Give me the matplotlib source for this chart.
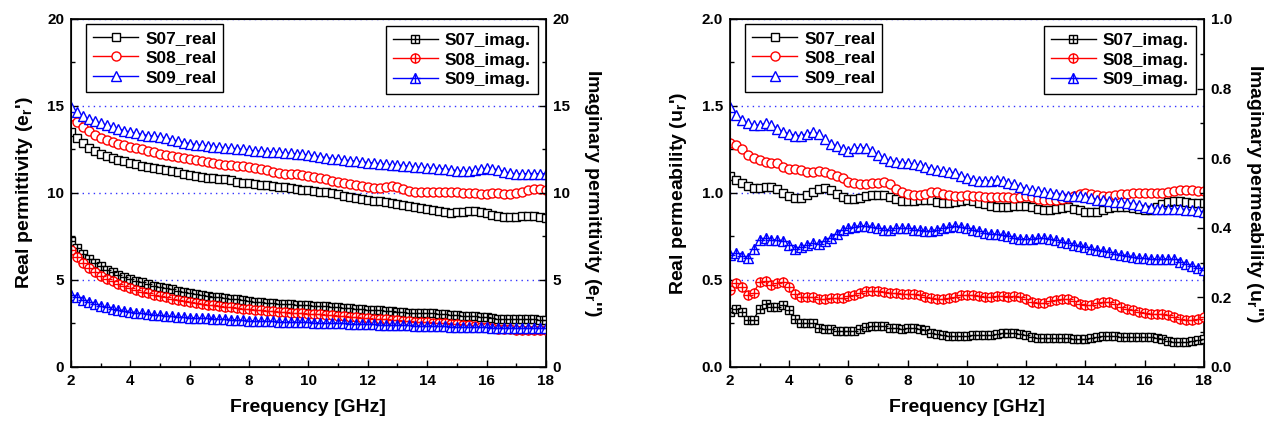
import numpy as np
import matplotlib
matplotlib.use("Agg")
import matplotlib.pyplot as plt
from matplotlib.ticker import MultipleLocator, FormatStrFormatter

plt.rcParams['font.family'] = ['Liberation Sans', 'DejaVu Sans']
plt.rcParams['font.weight'] = 'bold'
plt.rcParams['axes.labelweight'] = 'bold'
plt.rcParams['mathtext.fontset'] = 'custom'
plt.rcParams['mathtext.rm'] = 'Liberation Sans:bold'
plt.rcParams['mathtext.it'] = 'Liberation Sans:bold'
plt.rcParams['mathtext.default'] = 'rm'

freq = [2.0, 2.2, 2.4, 2.6, 2.8, 3.0, 3.2, 3.4, 3.6, 3.8,
        4.0, 4.2, 4.4, 4.6, 4.8, 5.0, 5.2, 5.4, 5.6, 5.8,
        6.0, 6.2, 6.4, 6.6, 6.8, 7.0, 7.2, 7.4, 7.6, 7.8,
        8.0, 8.2, 8.4, 8.6, 8.8, 9.0, 9.2, 9.4, 9.6, 9.8,
        10.0, 10.2, 10.4, 10.6, 10.8, 11.0, 11.2, 11.4, 11.6, 11.8,
        12.0, 12.2, 12.4, 12.6, 12.8, 13.0, 13.2, 13.4, 13.6, 13.8,
        14.0, 14.2, 14.4, 14.6, 14.8, 15.0, 15.2, 15.4, 15.6, 15.8,
        16.0, 16.2, 16.4, 16.6, 16.8, 17.0, 17.2, 17.4, 17.6, 17.8,
        18.0]

# permittivity, real part
eps_s07_real = [13.50, 13.15, 12.85, 12.60, 12.40, 12.25, 12.12, 12.00, 11.92, 11.83,
                11.75, 11.66, 11.58, 11.50, 11.42, 11.36, 11.32, 11.27, 11.20, 11.12,
                11.05, 10.98, 10.92, 10.88, 10.85, 10.82, 10.78, 10.72, 10.66, 10.60,
                10.56, 10.52, 10.48, 10.44, 10.40, 10.36, 10.32, 10.28, 10.24, 10.20,
                10.16, 10.12, 10.08, 10.04, 9.98, 9.92, 9.84, 9.76, 9.70, 9.65,
                9.60, 9.56, 9.52, 9.48, 9.42, 9.36, 9.30, 9.24, 9.18, 9.12,
                9.06, 9.00, 8.95, 8.90, 8.87, 8.88, 8.92, 8.95, 8.96, 8.93,
                8.86, 8.76, 8.66, 8.60, 8.60, 8.62, 8.66, 8.68, 8.66, 8.60,
                8.55]
eps_s08_real = [14.45, 14.10, 13.80, 13.55, 13.35, 13.18, 13.05, 12.93, 12.83, 12.74,
                12.66, 12.58, 12.50, 12.42, 12.34, 12.27, 12.21, 12.15, 12.09, 12.03,
                11.97, 11.90, 11.83, 11.76, 11.70, 11.65, 11.62, 11.60, 11.58, 11.54,
                11.50, 11.45, 11.38, 11.30, 11.22, 11.16, 11.12, 11.10, 11.07, 11.02,
                10.96, 10.90, 10.84, 10.78, 10.70, 10.63, 10.56, 10.50, 10.44, 10.38,
                10.33, 10.30, 10.30, 10.36, 10.38, 10.32, 10.22, 10.14, 10.08, 10.06,
                10.05, 10.07, 10.08, 10.07, 10.05, 10.04, 10.02, 10.00, 9.98, 9.97,
                9.97, 9.98, 9.98, 9.97, 9.96, 9.98, 10.05, 10.15, 10.22, 10.22,
                10.15]
eps_s09_real = [14.95, 14.65, 14.42, 14.25, 14.12, 14.00, 13.88, 13.78, 13.68, 13.58,
                13.50, 13.42, 13.36, 13.30, 13.26, 13.22, 13.15, 13.06, 12.98, 12.90,
                12.84, 12.78, 12.74, 12.70, 12.66, 12.62, 12.60, 12.57, 12.54, 12.50,
                12.46, 12.42, 12.40, 12.38, 12.36, 12.33, 12.30, 12.28, 12.25, 12.22,
                12.18, 12.13, 12.08, 12.03, 11.98, 11.94, 11.90, 11.86, 11.82, 11.78,
                11.75, 11.72, 11.68, 11.65, 11.62, 11.60, 11.57, 11.54, 11.50, 11.47,
                11.44, 11.42, 11.40, 11.38, 11.34, 11.28, 11.25, 11.25, 11.30, 11.38,
                11.42, 11.40, 11.32, 11.22, 11.14, 11.10, 11.10, 11.12, 11.12, 11.10,
                11.12]

# permittivity, imaginary part
eps_s07_imag = [7.25, 6.85, 6.50, 6.22, 5.98, 5.78, 5.60, 5.44, 5.30, 5.17,
                5.05, 4.95, 4.86, 4.77, 4.68, 4.60, 4.53, 4.46, 4.39, 4.32,
                4.26, 4.20, 4.15, 4.10, 4.05, 4.00, 3.96, 3.92, 3.88, 3.84,
                3.80, 3.76, 3.73, 3.70, 3.67, 3.64, 3.62, 3.60, 3.58, 3.56,
                3.54, 3.52, 3.50, 3.48, 3.46, 3.43, 3.40, 3.37, 3.34, 3.32,
                3.30, 3.28, 3.25, 3.22, 3.20, 3.17, 3.15, 3.13, 3.11, 3.10,
                3.09, 3.08, 3.06, 3.04, 3.00, 2.96, 2.94, 2.93, 2.92, 2.90,
                2.86, 2.82, 2.78, 2.76, 2.75, 2.74, 2.74, 2.74, 2.73, 2.72,
                2.70]
eps_s08_imag = [6.70, 6.30, 5.98, 5.70, 5.45, 5.25, 5.07, 4.92, 4.78, 4.65,
                4.53, 4.43, 4.33, 4.24, 4.15, 4.07, 4.00, 3.93, 3.86, 3.80,
                3.74, 3.68, 3.63, 3.58, 3.54, 3.50, 3.46, 3.42, 3.39, 3.36,
                3.33, 3.30, 3.27, 3.24, 3.21, 3.18, 3.15, 3.12, 3.10, 3.08,
                3.06, 3.04, 3.02, 3.00, 2.97, 2.94, 2.91, 2.88, 2.85, 2.82,
                2.80, 2.78, 2.76, 2.74, 2.72, 2.69, 2.66, 2.63, 2.61, 2.59,
                2.57, 2.55, 2.53, 2.51, 2.49, 2.47, 2.44, 2.40, 2.36, 2.32,
                2.28, 2.24, 2.21, 2.19, 2.17, 2.15, 2.14, 2.13, 2.13, 2.14,
                2.15]
eps_s09_imag = [4.15, 4.00, 3.85, 3.72, 3.60, 3.50, 3.42, 3.35, 3.29, 3.23,
                3.17, 3.12, 3.08, 3.04, 3.00, 2.97, 2.94, 2.91, 2.88, 2.86,
                2.84, 2.82, 2.80, 2.79, 2.77, 2.75, 2.73, 2.72, 2.70, 2.68,
                2.66, 2.65, 2.64, 2.63, 2.62, 2.61, 2.60, 2.59, 2.58, 2.57,
                2.56, 2.55, 2.54, 2.53, 2.52, 2.51, 2.50, 2.49, 2.48, 2.47,
                2.46, 2.45, 2.44, 2.43, 2.42, 2.41, 2.40, 2.39, 2.38, 2.37,
                2.36, 2.35, 2.34, 2.33, 2.32, 2.31, 2.30, 2.30, 2.29, 2.28,
                2.28, 2.27, 2.27, 2.26, 2.26, 2.25, 2.25, 2.24, 2.24, 2.23,
                2.23]

# permeability, real part
mu_s07_real = [1.097, 1.074, 1.055, 1.040, 1.030, 1.030, 1.035, 1.035, 1.025, 1.000,
               0.980, 0.974, 0.974, 0.987, 1.007, 1.025, 1.030, 1.016, 0.993, 0.978,
               0.968, 0.968, 0.974, 0.980, 0.987, 0.990, 0.987, 0.978, 0.963, 0.955,
               0.953, 0.953, 0.959, 0.962, 0.959, 0.949, 0.943, 0.943, 0.949, 0.955,
               0.959, 0.955, 0.943, 0.936, 0.926, 0.920, 0.917, 0.920, 0.924, 0.926,
               0.926, 0.920, 0.910, 0.905, 0.905, 0.910, 0.915, 0.917, 0.910, 0.900,
               0.893, 0.890, 0.893, 0.905, 0.915, 0.920, 0.920, 0.920, 0.915, 0.910,
               0.902, 0.905, 0.920, 0.935, 0.948, 0.953, 0.953, 0.950, 0.945, 0.942,
               0.940]
mu_s08_real = [1.290, 1.275, 1.250, 1.220, 1.200, 1.190, 1.180, 1.175, 1.170, 1.150,
               1.140, 1.140, 1.130, 1.120, 1.120, 1.125, 1.120, 1.110, 1.100, 1.085,
               1.065, 1.055, 1.050, 1.050, 1.055, 1.055, 1.065, 1.050, 1.025, 1.005,
               0.997, 0.987, 0.987, 0.997, 1.003, 1.003, 0.993, 0.987, 0.980, 0.980,
               0.987, 0.984, 0.980, 0.978, 0.978, 0.978, 0.978, 0.978, 0.974, 0.978,
               0.980, 0.978, 0.968, 0.962, 0.960, 0.962, 0.967, 0.970, 0.985, 0.997,
               1.000, 0.995, 0.987, 0.985, 0.985, 0.987, 0.992, 0.997, 0.998, 0.999,
               1.000, 1.000, 1.000, 1.000, 1.005, 1.010, 1.016, 1.020, 1.018, 1.014,
               1.010]
mu_s09_real = [1.496, 1.450, 1.420, 1.400, 1.390, 1.390, 1.400, 1.390, 1.370, 1.350,
               1.340, 1.330, 1.330, 1.340, 1.350, 1.340, 1.310, 1.280, 1.270, 1.250,
               1.240, 1.260, 1.260, 1.260, 1.240, 1.220, 1.200, 1.185, 1.180, 1.175,
               1.170, 1.165, 1.160, 1.150, 1.140, 1.130, 1.125, 1.120, 1.115, 1.100,
               1.085, 1.075, 1.070, 1.070, 1.070, 1.075, 1.070, 1.060, 1.050, 1.035,
               1.025, 1.015, 1.010, 1.005, 1.000, 0.997, 0.990, 0.985, 0.983, 0.980,
               0.978, 0.970, 0.962, 0.958, 0.952, 0.950, 0.946, 0.942, 0.938, 0.930,
               0.920, 0.915, 0.910, 0.910, 0.910, 0.910, 0.908, 0.905, 0.900, 0.895,
               0.890]

# permeability, imaginary part
mu_s07_imag = [0.158, 0.168, 0.158, 0.134, 0.136, 0.168, 0.180, 0.173, 0.173, 0.177,
               0.163, 0.139, 0.127, 0.125, 0.125, 0.112, 0.110, 0.108, 0.103, 0.103,
               0.103, 0.104, 0.110, 0.115, 0.118, 0.118, 0.117, 0.113, 0.113, 0.110,
               0.112, 0.112, 0.110, 0.105, 0.099, 0.096, 0.091, 0.088, 0.088, 0.088,
               0.089, 0.091, 0.091, 0.091, 0.092, 0.096, 0.098, 0.098, 0.098, 0.096,
               0.093, 0.086, 0.084, 0.084, 0.084, 0.084, 0.083, 0.082, 0.081, 0.081,
               0.081, 0.083, 0.087, 0.089, 0.089, 0.088, 0.087, 0.086, 0.086, 0.086,
               0.086, 0.085, 0.083, 0.081, 0.076, 0.073, 0.072, 0.072, 0.074, 0.078,
               0.081]
mu_s08_imag = [0.222, 0.242, 0.230, 0.206, 0.213, 0.245, 0.247, 0.235, 0.240, 0.245,
               0.230, 0.211, 0.201, 0.200, 0.201, 0.194, 0.194, 0.197, 0.197, 0.199,
               0.203, 0.206, 0.213, 0.218, 0.219, 0.218, 0.216, 0.214, 0.214, 0.211,
               0.211, 0.209, 0.206, 0.201, 0.197, 0.195, 0.194, 0.197, 0.201, 0.206,
               0.206, 0.206, 0.204, 0.201, 0.201, 0.203, 0.203, 0.201, 0.203, 0.201,
               0.195, 0.187, 0.183, 0.185, 0.189, 0.192, 0.195, 0.196, 0.190, 0.182,
               0.177, 0.179, 0.183, 0.187, 0.186, 0.180, 0.173, 0.168, 0.163, 0.158,
               0.154, 0.153, 0.153, 0.151, 0.149, 0.144, 0.139, 0.136, 0.134, 0.137,
               0.144]
mu_s09_imag = [0.321, 0.328, 0.318, 0.314, 0.340, 0.364, 0.372, 0.366, 0.366, 0.362,
               0.350, 0.340, 0.345, 0.350, 0.355, 0.353, 0.362, 0.372, 0.383, 0.393,
               0.398, 0.403, 0.406, 0.406, 0.403, 0.398, 0.395, 0.395, 0.398, 0.400,
               0.398, 0.395, 0.393, 0.390, 0.391, 0.395, 0.398, 0.403, 0.405, 0.403,
               0.398, 0.395, 0.391, 0.386, 0.383, 0.382, 0.379, 0.376, 0.372, 0.369,
               0.368, 0.369, 0.370, 0.370, 0.368, 0.364, 0.360, 0.356, 0.352, 0.348,
               0.345, 0.340, 0.336, 0.333, 0.330, 0.326, 0.323, 0.320, 0.317, 0.314,
               0.312, 0.311, 0.311, 0.311, 0.310, 0.309, 0.303, 0.297, 0.291, 0.285,
               0.280]

samples = ["S07", "S08", "S09"]
colors = ["black", "red", "blue"]
markers = ["s", "o", "^"]
msize = {"s": 5.5, "o": 6.5, "^": 7}

fig = plt.figure(figsize=(12.74, 4.26), dpi=100)
ax1 = fig.add_axes([0.0557, 0.1385, 0.3728, 0.8169])
ax2 = fig.add_axes([0.573, 0.1385, 0.372, 0.8169])


def set_ticks(ax, ymajor, yminor):
    ax.yaxis.set_major_locator(MultipleLocator(ymajor))
    ax.yaxis.set_minor_locator(MultipleLocator(yminor))
    ax.tick_params(which='both', direction='in', labelsize=11, width=1)
    ax.tick_params(which='major', length=5, pad=5)
    ax.tick_params(which='minor', length=3)


def draw(ax, axi, reals, imags, ymax, ymajor, ymax2, ymajor2, yminor2,
         ylab, ylab2):
    ax.set_xlim(2, 18)
    ax.set_ylim(0, ymax)
    ax.xaxis.set_major_locator(MultipleLocator(2))
    ax.xaxis.set_minor_locator(MultipleLocator(1))
    set_ticks(ax, ymajor, ymajor / 2)
    for s in ax.spines.values():
        s.set_linewidth(1.2)
    ax.yaxis.grid(True, which='major', linestyle=(0, (1, 3)), color='#3333ff',
                  linewidth=1)

    h_real = []
    for c, m, y in zip(colors, markers, reals):
        ln, = ax.plot(freq, y, color=c, lw=1, marker=m, ms=msize[m],
                      mfc='white', mec=c, mew=1)
        h_real.append(ln)

    axi.set_ylim(0, ymax2)
    set_ticks(axi, ymajor2, yminor2)
    h_imag = []
    for c, m, y in zip(colors, markers, imags):
        ln, = axi.plot(freq, y, color=c, lw=1, marker=m, ms=msize[m],
                       mfc='white', mec=c, mew=1)
        pl, = axi.plot(freq, y, ls='none', marker='+', ms=msize[m] + 0.5,
                       mec=c, mew=1)
        h_imag.append((ln, pl))

    common = dict(fontsize=12.5, fancybox=False, edgecolor='black', framealpha=1,
                  handlelength=2.6, borderpad=0.4, labelspacing=0.25,
                  handletextpad=0.4, borderaxespad=0)
    leg1 = ax.legend(h_real, [s + "_real" for s in samples], loc='upper left',
                     bbox_to_anchor=(0.032, 0.986), **common)
    leg1.get_frame().set_linewidth(1)
    leg2 = axi.legend(h_imag, [s + "_imag." for s in samples], loc='upper right',
                      bbox_to_anchor=(0.983, 0.98), **common)
    leg2.get_frame().set_linewidth(1)

    ax.set_xlabel("Frequency [GHz]", fontsize=14, labelpad=8)
    ax.set_ylabel(ylab, fontsize=14, labelpad=9)
    axi.set_ylabel(ylab2, fontsize=14, rotation=270, labelpad=24)


ax1i = ax1.twinx()
draw(ax1, ax1i, [eps_s07_real, eps_s08_real, eps_s09_real],
     [eps_s07_imag, eps_s08_imag, eps_s09_imag], 20, 5, 20, 5, 2.5,
     "Real permittivity (e$_r$')", "Imaginary permittivity (e$_r$'')")

ax2i = ax2.twinx()
draw(ax2, ax2i, [mu_s07_real, mu_s08_real, mu_s09_real],
     [mu_s07_imag, mu_s08_imag, mu_s09_imag], 2.0, 0.5, 1.0, 0.2, 0.1,
     "Real permeability (u$_r$')", "Imaginary permeability (u$_r$'')")
ax2.yaxis.set_major_formatter(FormatStrFormatter('%.1f'))
ax2i.yaxis.set_major_formatter(FormatStrFormatter('%.1f'))

fig.savefig("out.png", dpi=100)
